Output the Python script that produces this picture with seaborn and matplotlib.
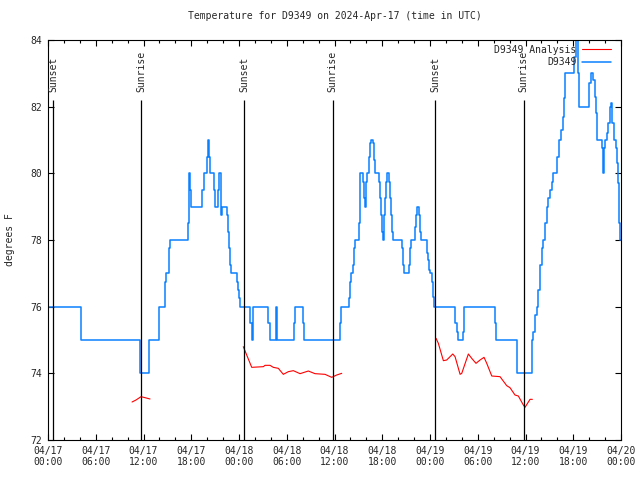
import pandas as pd
import numpy as np
import matplotlib
matplotlib.use("Agg")
import matplotlib.pyplot as plt
import matplotlib.dates as mdates
import seaborn as sns

# hours since 2024-04-17 00:00 UTC
start = pd.Timestamp("2024-04-17 00:00")

# observed temperature (value holds until next time)
obs_hours = [0.00, 4.15, 11.50, 12.69, 14.01, 14.70, 14.89, 15.21, 15.37,
             17.63, 17.76, 17.88, 18.01, 19.41, 19.54, 19.94, 20.07, 20.23, 20.36,
             20.90, 21.02, 21.40, 21.49, 21.77, 21.86, 22.46, 22.58, 22.71, 22.83,
             22.96, 23.71, 23.84, 23.96, 24.13, 25.38, 25.59, 25.72, 27.69, 27.90,
             28.65, 28.78, 30.91, 31.04, 32.01, 32.17, 36.69, 36.82,
             37.86, 37.99, 38.12, 38.30, 38.43, 38.55, 39.12, 39.25,
             39.62, 39.75, 39.87, 40.00, 40.12, 40.37, 40.50, 40.63,
             40.88, 41.00, 41.13, 41.63, 41.76, 41.89, 42.01, 42.14, 42.26, 42.39,
             42.51, 42.64, 42.89, 43.01, 43.14, 43.26, 43.39, 44.45, 44.57, 44.70,
             45.40, 45.53, 45.65, 46.16, 46.28, 46.41, 46.66, 46.78, 46.91,
             47.66, 47.79, 47.91, 48.04, 48.29, 48.42, 48.54,
             51.18, 51.36, 51.48, 52.19, 52.31, 56.17, 56.34, 58.98,
             60.78, 60.98, 61.20, 61.41, 61.61, 61.83, 62.04, 62.24, 62.45, 62.67,
             62.87, 63.08, 63.29, 63.50, 64.00, 64.26, 64.47, 64.68, 64.84, 65.01,
             66.10, 66.35, 66.64, 66.76, 68.02, 68.20, 68.52, 68.74, 68.86, 69.03,
             69.58, 69.70, 69.87, 69.99, 70.28, 70.41, 70.58, 70.75, 70.87, 71.13,
             71.38, 71.50, 71.67, 71.80, 71.88, 72.00]
obs_temps = [76, 75, 74, 75, 76, 76.75, 77, 77.75, 78,
             78.5, 80, 79.5, 79, 79.5, 80, 80.5, 81, 80.5, 80,
             79.5, 79, 79.5, 80, 78.75, 79, 78.75, 78.25, 77.75, 77.25,
             77, 76.75, 76.5, 76.25, 76, 75.5, 75, 76, 75.5, 75,
             76, 75, 75.5, 76, 75.5, 75, 75.5, 76,
             76.25, 76.75, 77, 77.25, 77.75, 78, 78.5, 80,
             79.75, 79.25, 79, 79.75, 80, 80.5, 80.9, 81,
             80.9, 80.4, 80, 79.75, 79.25, 78.75, 78.25, 78, 78.75, 79.25,
             79.75, 80, 79.75, 79.25, 78.75, 78.25, 78, 77.75, 77.25, 77,
             77.25, 77.75, 78, 78.4, 78.75, 79, 78.75, 78.25, 78,
             77.6, 77.4, 77.1, 77, 76.75, 76.3, 76,
             75.5, 75.25, 75, 75.25, 76, 75.5, 75, 74,
             75, 75.25, 75.75, 76, 76.5, 77.25, 77.75, 78, 78.5, 79,
             79.25, 79.5, 79.75, 80, 80.5, 81, 81.3, 81.7, 82.25, 83,
             83.5, 84.5, 83, 82, 82.7, 83, 82.8, 82.3, 81.8, 81,
             80.75, 80, 80.75, 81, 81.2, 81.5, 82, 82.1, 81.5, 81,
             80.75, 80.3, 79.7, 78.5, 78, 78]

# analysis temperature, three runs
ana_hours_1 = [10.56, 11.06, 11.69, 12.19, 12.82]
ana_temps_1 = [73.14, 73.20, 73.30, 73.27, 73.23]
ana_hours_2 = [24.54, 25.60, 27.06, 27.27, 27.90, 28.31, 28.94, 29.57, 30.20,
               30.83, 31.67, 32.71, 33.55, 34.81, 35.65, 36.28, 36.91]
ana_temps_2 = [74.80, 74.18, 74.20, 74.24, 74.24, 74.18, 74.15, 73.97, 74.05,
               74.08, 73.99, 74.07, 73.99, 73.97, 73.88, 73.95, 74.00]
ana_hours_3 = [48.76, 49.05, 49.68, 50.10, 50.86, 51.15, 51.78, 51.99, 52.82,
               53.24, 53.78, 54.29, 54.79, 55.13, 55.76, 56.80, 57.64, 58.05,
               58.68, 59.10, 59.73, 59.94, 60.57, 60.86]
ana_temps_3 = [75.05, 74.90, 74.38, 74.40, 74.58, 74.50, 73.97, 74.00, 74.58,
               74.45, 74.30, 74.40, 74.48, 74.30, 73.92, 73.90, 73.63, 73.57,
               73.35, 73.32, 73.05, 72.98, 73.22, 73.22]

sun_hours = [0.63, 11.72, 24.63, 35.78, 48.63, 59.78]
sun_labels = ["Sunset", "Sunrise", "Sunset", "Sunrise", "Sunset", "Sunrise"]

def to_time(h):
    return start + pd.to_timedelta(h, unit="h")

sns.set_style("white")
plt.rcParams["font.family"] = ["DejaVu Sans Mono"]

fig, ax = plt.subplots(figsize=(6.4, 4.8), dpi=100)
fig.subplots_adjust(left=48/640, right=621/640, top=1-40/480, bottom=1-440/480)

blue = "#0a80ff"
obs = pd.DataFrame({"time": to_time(obs_hours), "temp": obs_temps})
sns.lineplot(data=obs, x="time", y="temp", estimator=None, drawstyle="steps-post",
             color=blue, lw=1.1, ax=ax, label="D9349")

for i, (hh, tt) in enumerate([(ana_hours_1, ana_temps_1), (ana_hours_2, ana_temps_2),
                              (ana_hours_3, ana_temps_3)]):
    seg = pd.DataFrame({"time": to_time(hh), "temp": tt})
    sns.lineplot(data=seg, x="time", y="temp", estimator=None, color="red", lw=0.8,
                 ax=ax, label="D9349 Analysis" if i == 0 else None)

sun_times = to_time(sun_hours)
ax.vlines(sun_times, 72, 82.2, color="black", lw=0.9, zorder=3)
for t, lab in zip(sun_times, sun_labels):
    ax.text(t, 82.45, lab, rotation=90, ha="center", va="bottom", fontsize=7)

ax.set_xlim(start, to_time(72))
ax.set_ylim(72, 84)
ax.set_yticks(np.arange(72, 85, 2))
ax.xaxis.set_major_locator(mdates.HourLocator(byhour=[0, 6, 12, 18]))
ax.xaxis.set_minor_locator(mdates.HourLocator(byhour=range(0, 24, 2)))
ax.xaxis.set_major_formatter(mdates.DateFormatter("%m/%d\n%H:%M"))
ax.tick_params(which="both", direction="in", top=True, right=True, bottom=True, left=True,
               labelsize=7, color="black")
ax.tick_params(which="major", length=4, width=0.8, pad=4)
ax.tick_params(which="minor", length=2, width=0.8)
for s in ax.spines.values():
    s.set_color("black")
    s.set_linewidth(0.8)

ax.set_xlabel("")
ax.set_ylabel("")
fig.text(10/640, 0.5, "degrees F", rotation=90, ha="center", va="center", fontsize=7)
ax.set_title("Temperature for D9349 on 2024-Apr-17 (time in UTC)", fontsize=7, pad=15)

handles, labels = ax.get_legend_handles_labels()
order = [labels.index("D9349 Analysis"), labels.index("D9349")]
ax.legend([handles[k] for k in order], [labels[k] for k in order], loc="upper right",
          bbox_to_anchor=(1.0, 1.013), frameon=False, markerfirst=False, fontsize=7,
          handlelength=3.0, labelspacing=0.25, borderaxespad=0.6, handletextpad=0.6)

fig.savefig("out.png", dpi=100)
